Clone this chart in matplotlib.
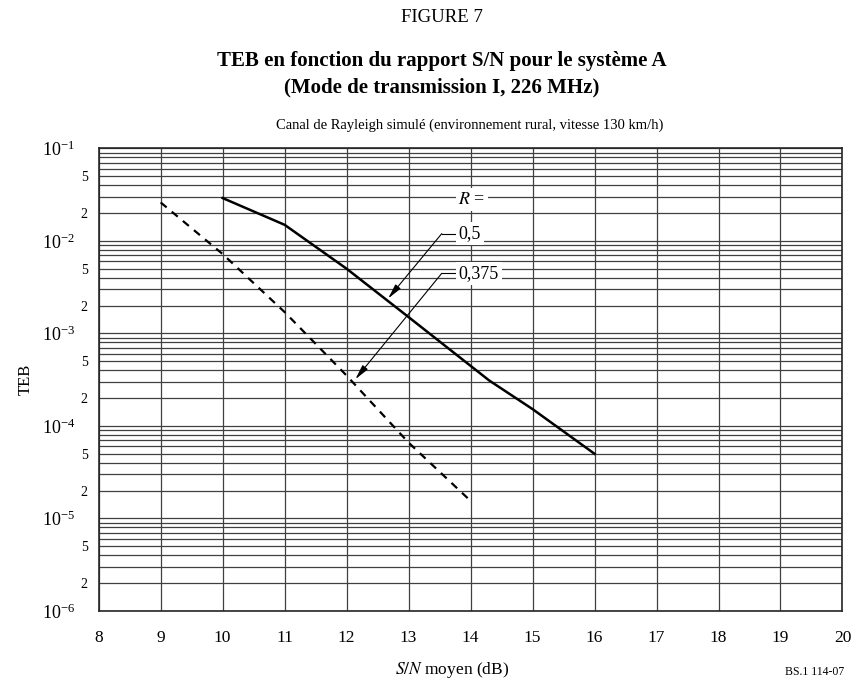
import matplotlib
matplotlib.use('Agg')
import matplotlib.pyplot as plt
from matplotlib.ticker import LogLocator, FuncFormatter, LogFormatterMathtext, MultipleLocator, NullLocator

plt.rcParams['font.family'] = ['Liberation Serif', 'DejaVu Serif']
plt.rcParams['mathtext.fontset'] = 'stix'

# R = 0,5 (solid)
snr_05 = [10, 11, 12, 13, 14.3, 15, 16]
teb_05 = [2.9e-2, 1.49e-2, 5.0e-3, 1.5e-3, 3.1e-4, 1.52e-4, 5.0e-5]

# R = 0,375 (dashed)
snr_0375 = [9, 10, 11, 12, 13, 14]
teb_0375 = [2.6e-2, 7.2e-3, 1.7e-3, 3.5e-4, 6.6e-5, 1.55e-5]

fig = plt.figure(figsize=(8.58, 6.85), dpi=100)
ax = fig.add_axes([0.115, 0.108, 0.8669, 0.6755])

ax.plot(snr_05, teb_05, '-', color='black', lw=1.8)
ax.plot(snr_0375, teb_0375, color='black', lw=1.6, linestyle=(0, (3.5, 3)))

ax.set_yscale('log')
ax.set_xlim(8, 20)
ax.set_ylim(1e-6, 1e-1)

ax.xaxis.set_major_locator(MultipleLocator(1))
ax.xaxis.set_minor_locator(NullLocator())
ax.yaxis.set_major_locator(LogLocator(base=10, numticks=10))
ax.yaxis.set_minor_locator(LogLocator(base=10, subs=range(2, 10), numticks=20))
ax.yaxis.set_major_formatter(LogFormatterMathtext())


def minor_fmt(v, pos):
    m = round(v / 10 ** int(f"{v:e}".split('e')[1]))
    return str(m) if m in (2, 5) else ''


ax.yaxis.set_minor_formatter(FuncFormatter(minor_fmt))

ax.tick_params(axis='both', which='both', length=0)
ax.tick_params(axis='y', which='major', pad=17, labelsize=13)
ax.tick_params(axis='y', which='minor', pad=8, labelsize=10)
ax.tick_params(axis='x', which='major', pad=14, labelsize=12.5)

ax.grid(True, which='both', axis='y', color='0.25', lw=0.9)
ax.grid(True, which='major', axis='x', color='0.25', lw=0.9)
for s in ax.spines.values():
    s.set_linewidth(1.2)
    s.set_color('0.15')

ax.set_ylabel('TEB', fontsize=12, labelpad=6)
fig.text(451.7 / 858, 1 - 670 / 685, r'$\mathit{S/N}$ moyen (dB)', ha='center', va='center', fontsize=12.5)

# R labels with leaders
bbox = dict(boxstyle='square,pad=0.15', fc='white', ec='none')
ax.text(14.02, 0.0281, r'$\mathit{R}$ =', ha='center', va='center', fontsize=13, bbox=bbox, zorder=5)

ax.plot([13.535, 13.8], [0.01197, 0.01197], color='black', lw=0.8, zorder=4)
ax.text(13.81, 0.01197, '0,5', ha='left', va='center', fontsize=13, bbox=bbox, zorder=5)
ax.annotate('', xy=(12.671, 0.002388), xytext=(13.535, 0.01197),
            arrowprops=dict(arrowstyle='-|>,head_length=0.9,head_width=0.2', lw=0.8, color='black',
                            shrinkA=0, shrinkB=0), zorder=4)

ax.plot([13.535, 13.8], [0.004457, 0.004457], color='black', lw=0.8, zorder=4)
ax.text(13.81, 0.004457, '0,375', ha='left', va='center', fontsize=13, bbox=bbox, zorder=5)
ax.annotate('', xy=(12.142, 3.2e-4), xytext=(13.535, 0.004457),
            arrowprops=dict(arrowstyle='-|>,head_length=0.9,head_width=0.2', lw=0.8, color='black',
                            shrinkA=0, shrinkB=0), zorder=4)

fig.text(0.515, 1 - 18 / 685, 'FIGURE 7', ha='center', va='center', fontsize=13.5)
fig.text(0.515, 1 - 61 / 685, 'TEB en fonction du rapport S/N pour le système A',
         ha='center', va='center', fontsize=15, fontweight='bold')
fig.text(0.515, 1 - 87 / 685, '(Mode de transmission I, 226 MHz)',
         ha='center', va='center', fontsize=15, fontweight='bold')
fig.text(0.548, 1 - 125 / 685, 'Canal de Rayleigh simulé (environnement rural, vitesse 130 km/h)',
         ha='center', va='center', fontsize=10.5)
fig.text(0.915, 1 - 672 / 685, 'BS.1 114-07', ha='left', va='center', fontsize=8.5)

plt.savefig('out.png', dpi=100)
